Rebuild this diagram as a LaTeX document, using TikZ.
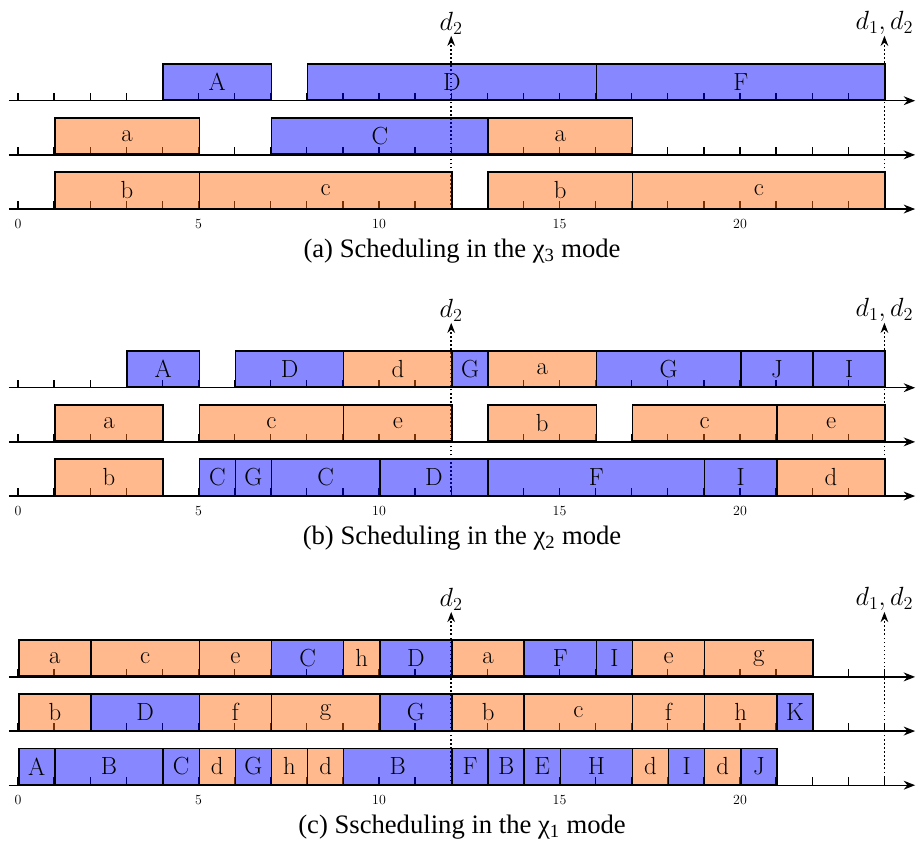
\documentclass[tikz,border=0pt]{standalone}
\usepackage{fontspec}
\newfontfamily\serifcap{Liberation Serif}
\usetikzlibrary{arrows.meta}
\definecolor{hifill}{RGB}{0,0,255}
\definecolor{lofill}{RGB}{255,106,10}
\tikzset{
  axis/.style    = {line width=1pt, -{Stealth[length=9pt,width=7pt]}},
  tick/.style    = {line width=1pt},
  job/.style     = {draw, rectangle, line width=1.2pt, inner sep=0pt,
                    minimum height=1cm, anchor=south west,
                    fill opacity=0.47, text opacity=1,
                    font=\fontsize{19.5}{22}\selectfont},
  ticklabel/.style = {font=\fontsize{11}{13}\selectfont, inner sep=1pt},
  deadline/.style  = {dotted, line width=1.2pt, -{Stealth[length=8pt,width=6pt]}},
  dlabel/.style    = {anchor=south, inner sep=1pt, font=\fontsize{22}{26}\selectfont},
  subcap/.style    = {font=\serifcap\fontsize{21}{25}\selectfont}
}

\begin{document}
\begin{tikzpicture}[x=1cm,y=1cm]
\useasboundingbox (-0.4986,-23.38) rectangle (24.93,0);

% (a) scheduling in the chi_3 mode
\begin{scope}[yshift=-5.79cm]
  % three time lines with a tick at every unit
  \foreach \r in {0,1,2} {
    \draw[axis] (-0.25,1.5*\r) -- (24.85,1.5*\r);
    \foreach \t in {0,...,24}
      \draw[tick] (\t,1.5*\r) -- ++(0,0.22);
  }
  \foreach \t in {0,5,...,20}
    \node[ticklabel] (a-t\t) at (\t,-0.42) {\t};
  % deadlines
  \coordinate (a-d2) at (12,0);
  \coordinate (a-d12) at (24,0);
  \node[dlabel] (a-d2l) at (12,4.8) {$d_2$};
  \node[dlabel] (a-d12l) at (24,4.8) {$d_1,d_2$};
  \draw[deadline] (a-d2) -- (a-d2l);
  \draw[deadline] (a-d12) -- (a-d12l);
  % jobs, one row per core
  \foreach \s/\e/\n/\c [count=\i] in {4/7/A/hifill, 8/16/D/hifill, 16/24/F/hifill}
    \node[job, fill=\c, minimum width=(\e-\s)*1cm] (a1-\i) at (\s,3) {\n};
  \foreach \s/\e/\n/\c [count=\i] in {1/5/a/lofill, 7/13/C/hifill, 13/17/a/lofill}
    \node[job, fill=\c, minimum width=(\e-\s)*1cm] (a2-\i) at (\s,1.5) {\n};
  \foreach \s/\e/\n/\c [count=\i] in {1/5/b/lofill, 5/12/c/lofill, 13/17/b/lofill, 17/24/c/lofill}
    \node[job, fill=\c, minimum width=(\e-\s)*1cm] (a3-\i) at (\s,0) {\n};
  \node[subcap] (a-cap) at (12.3,-1.16) {(a) Scheduling in the χ\textsubscript{3} mode};
\end{scope}

% (b) scheduling in the chi_2 mode
\begin{scope}[yshift=-13.74cm]
  \foreach \r in {0,1,2} {
    \draw[axis] (-0.25,1.5*\r) -- (24.85,1.5*\r);
    \foreach \t in {0,...,24}
      \draw[tick] (\t,1.5*\r) -- ++(0,0.22);
  }
  \foreach \t in {0,5,...,20}
    \node[ticklabel] (b-t\t) at (\t,-0.42) {\t};
  \coordinate (b-d2) at (12,0);
  \coordinate (b-d12) at (24,0);
  \node[dlabel] (b-d2l) at (12,4.8) {$d_2$};
  \node[dlabel] (b-d12l) at (24,4.8) {$d_1,d_2$};
  \draw[deadline] (b-d2) -- (b-d2l);
  \draw[deadline] (b-d12) -- (b-d12l);
  \foreach \s/\e/\n/\c [count=\i] in {3/5/A/hifill, 6/9/D/hifill, 9/12/d/lofill, 12/13/G/hifill,
      13/16/a/lofill, 16/20/G/hifill, 20/22/J/hifill, 22/24/I/hifill}
    \node[job, fill=\c, minimum width=(\e-\s)*1cm] (b1-\i) at (\s,3) {\n};
  \foreach \s/\e/\n/\c [count=\i] in {1/4/a/lofill, 5/9/c/lofill, 9/12/e/lofill, 13/16/b/lofill,
      17/21/c/lofill, 21/24/e/lofill}
    \node[job, fill=\c, minimum width=(\e-\s)*1cm] (b2-\i) at (\s,1.5) {\n};
  \foreach \s/\e/\n/\c [count=\i] in {1/4/b/lofill, 5/6/C/hifill, 6/7/G/hifill, 7/10/C/hifill,
      10/13/D/hifill, 13/19/F/hifill, 19/21/I/hifill, 21/24/d/lofill}
    \node[job, fill=\c, minimum width=(\e-\s)*1cm] (b3-\i) at (\s,0) {\n};
  \node[subcap] (b-cap) at (12.3,-1.16) {(b) Scheduling in the χ\textsubscript{2} mode};
\end{scope}

% (c) scheduling in the chi_1 mode
\begin{scope}[yshift=-21.75cm]
  \foreach \r in {0,1,2} {
    \draw[axis] (-0.25,1.5*\r) -- (24.85,1.5*\r);
    \foreach \t in {0,...,24}
      \draw[tick] (\t,1.5*\r) -- ++(0,0.22);
  }
  \foreach \t in {0,5,...,20}
    \node[ticklabel] (c-t\t) at (\t,-0.42) {\t};
  \coordinate (c-d2) at (12,0);
  \coordinate (c-d12) at (24,0);
  \node[dlabel] (c-d2l) at (12,4.8) {$d_2$};
  \node[dlabel] (c-d12l) at (24,4.8) {$d_1,d_2$};
  \draw[deadline] (c-d2) -- (c-d2l);
  \draw[deadline] (c-d12) -- (c-d12l);
  \foreach \s/\e/\n/\c [count=\i] in {0/2/a/lofill, 2/5/c/lofill, 5/7/e/lofill, 7/9/C/hifill,
      9/10/h/lofill, 10/12/D/hifill, 12/14/a/lofill, 14/16/F/hifill, 16/17/I/hifill,
      17/19/e/lofill, 19/22/g/lofill}
    \node[job, fill=\c, minimum width=(\e-\s)*1cm] (c1-\i) at (\s,3) {\n};
  \foreach \s/\e/\n/\c [count=\i] in {0/2/b/lofill, 2/5/D/hifill, 5/7/f/lofill, 7/10/g/lofill,
      10/12/G/hifill, 12/14/b/lofill, 14/17/c/lofill, 17/19/f/lofill, 19/21/h/lofill,
      21/22/K/hifill}
    \node[job, fill=\c, minimum width=(\e-\s)*1cm] (c2-\i) at (\s,1.5) {\n};
  \foreach \s/\e/\n/\c [count=\i] in {0/1/A/hifill, 1/4/B/hifill, 4/5/C/hifill, 5/6/d/lofill,
      6/7/G/hifill, 7/8/h/lofill, 8/9/d/lofill, 9/12/B/hifill, 12/13/F/hifill, 13/14/B/hifill,
      14/15/E/hifill, 15/17/H/hifill, 17/18/d/lofill, 18/19/I/hifill, 19/20/d/lofill,
      20/21/J/hifill}
    \node[job, fill=\c, minimum width=(\e-\s)*1cm] (c3-\i) at (\s,0) {\n};
  \node[subcap] (c-cap) at (12.3,-1.16) {(c) Sscheduling in the χ\textsubscript{1} mode};
\end{scope}

\end{tikzpicture}
\end{document}
